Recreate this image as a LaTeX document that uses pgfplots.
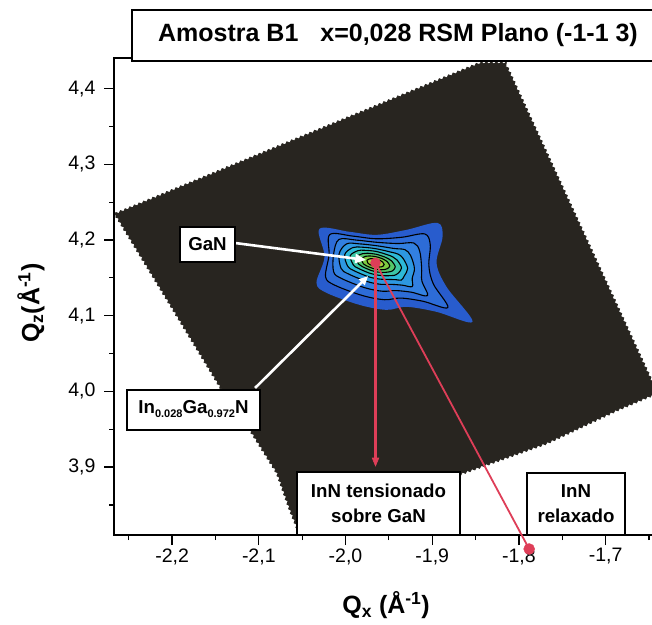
\documentclass[border=0pt]{standalone}
\usepackage{fontspec}
\setmainfont{Liberation Sans}
\usepackage{pgfplots}
\pgfplotsset{compat=1.18}
\usetikzlibrary{arrows.meta,decorations.pathmorphing}
\definecolor{bgdark}{RGB}{40,37,32}
\definecolor{cA}{RGB}{40,92,205}
\definecolor{cB}{RGB}{45,108,215}
\definecolor{cC}{RGB}{50,128,225}
\definecolor{cD}{RGB}{45,152,225}
\definecolor{cE}{RGB}{45,185,215}
\definecolor{cF}{RGB}{60,198,165}
\definecolor{cG}{RGB}{85,200,105}
\definecolor{cH}{RGB}{125,204,65}
\definecolor{cI}{RGB}{165,208,60}
\definecolor{redmark}{RGB}{222,62,88}
\begin{document}
\begin{tikzpicture}[x=1pt,y=1pt]
\useasboundingbox (0,0) rectangle (652,624);
\clip (0,0) rectangle (652,624);
\begin{axis}[
  at={(114pt,89pt)}, anchor=south west,
  scale only axis, width=561pt, height=477pt,
  xmin=-2.267, xmax=-1.62, ymin=3.8103, ymax=4.4404,
  clip=false,
  axis line style={line width=1.2pt},
  tick pos=left, tick align=outside,
  major tick length=10pt, minor tick length=5pt,
  every tick/.style={black, line width=1.2pt},
  xtick={-2.2,-2.1,-2.0,-1.9,-1.8,-1.7},
  ytick={3.9,4.0,4.1,4.2,4.3,4.4},
  minor xtick={-2.25,-2.15,-2.05,-1.95,-1.85,-1.75,-1.65},
  minor ytick={3.85,3.95,4.05,4.15,4.25,4.35},
  /pgf/number format/use comma,
  /pgf/number format/fixed,
  /pgf/number format/fixed zerofill,
  /pgf/number format/precision=1,
  /pgf/number format/assume math mode=true,
  tick label style={font=\fontsize{19.5}{20}\selectfont},
  yticklabel style={xshift=-5pt},
  xlabel={Q\textsubscript{x} (Å\textsuperscript{-1})},
  ylabel={Q\textsubscript{z}(Å\textsuperscript{-1})},
  xlabel style={font=\fontsize{25}{25}\selectfont\bfseries, at={(axis description cs:0.485,-0.147)}, anchor=center},
  ylabel style={font=\fontsize{25}{25}\selectfont\bfseries, at={(axis description cs:-0.148,0.486)}, anchor=center},
]
% measured region of the map
\addplot[fill=bgdark, draw=bgdark, line width=0.8pt, decorate, decoration={zigzag, segment length=5pt, amplitude=1.1pt}] coordinates {
(-2.2657,4.2343) (-1.8448,4.4338) (-1.8159,4.4338) (-1.6406,3.9979) (-1.6867,3.9754) (-1.7675,3.9318) (-1.8644,3.8922) (-2.0524,3.8103) (-2.0639,3.8433) (-2.0789,3.8922) (-2.1100,3.9490) (-2.1423,4.0018) (-2.2138,4.1367)
} -- cycle;
% contours
\addplot[fill=cA, draw=none, smooth cycle, tension=0.55] coordinates {
(-2.0300,4.2147) (-1.9954,4.2108) (-1.9642,4.2068) (-1.9296,4.2134) (-1.8939,4.2226) (-1.8881,4.2041) (-1.8950,4.1698) (-1.8835,4.1381) (-1.8535,4.0919) (-1.8950,4.1051) (-1.9296,4.1117) (-1.9527,4.1077) (-1.9839,4.1143) (-2.0219,4.1302) (-2.0335,4.1434) (-2.0242,4.1777)};
\addplot[fill=cB, draw=black, line width=1.1pt, smooth cycle, tension=0.55] coordinates {
(-2.0180,4.2073) (-1.9915,4.2051) (-1.9644,4.2016) (-1.9350,4.2036) (-1.9087,4.2080) (-1.9023,4.1938) (-1.9039,4.1662) (-1.8987,4.1419) (-1.8820,4.1108) (-1.9107,4.1191) (-1.9364,4.1233) (-1.9551,4.1211) (-1.9806,4.1267) (-2.0127,4.1405) (-2.0230,4.1514) (-2.0190,4.1800)};
\addplot[fill=cC, draw=black, line width=1.1pt, smooth cycle, tension=0.55] coordinates {
(-2.0076,4.2007) (-1.9879,4.1999) (-1.9645,4.1970) (-1.9397,4.1953) (-1.9212,4.1960) (-1.9145,4.1855) (-1.9122,4.1636) (-1.9119,4.1456) (-1.9054,4.1265) (-1.9239,4.1310) (-1.9423,4.1332) (-1.9572,4.1323) (-1.9779,4.1370) (-2.0045,4.1491) (-2.0137,4.1580) (-2.0137,4.1816)};
\addplot[fill=cD, draw=black, line width=1.1pt, smooth cycle, tension=0.55] coordinates {
(-1.9987,4.1949) (-1.9842,4.1949) (-1.9646,4.1925) (-1.9442,4.1888) (-1.9315,4.1872) (-1.9250,4.1796) (-1.9205,4.1625) (-1.9231,4.1493) (-1.9231,4.1385) (-1.9344,4.1403) (-1.9473,4.1414) (-1.9591,4.1414) (-1.9753,4.1452) (-1.9971,4.1554) (-2.0051,4.1625) (-2.0074,4.1817)};
\addplot[fill=cE, draw=black, line width=1.1pt, smooth cycle, tension=0.55] coordinates {
(-1.9917,4.1899) (-1.9810,4.1905) (-1.9647,4.1884) (-1.9481,4.1841) (-1.9393,4.1813) (-1.9336,4.1757) (-1.9283,4.1625) (-1.9321,4.1528) (-1.9355,4.1471) (-1.9421,4.1476) (-1.9512,4.1479) (-1.9603,4.1483) (-1.9734,4.1514) (-1.9909,4.1598) (-1.9976,4.1656) (-2.0009,4.1808)};
\addplot[fill=cF, draw=black, line width=1.1pt, smooth cycle, tension=0.55] coordinates {
(-1.9859,4.1858) (-1.9780,4.1864) (-1.9648,4.1849) (-1.9516,4.1805) (-1.9454,4.1776) (-1.9405,4.1735) (-1.9354,4.1632) (-1.9393,4.1561) (-1.9439,4.1532) (-1.9479,4.1529) (-1.9544,4.1528) (-1.9615,4.1534) (-1.9716,4.1559) (-1.9856,4.1627) (-1.9911,4.1673) (-1.9945,4.1793)};
\addplot[fill=cG, draw=black, line width=1.1pt, smooth cycle, tension=0.55] coordinates {
(-1.9807,4.1818) (-1.9750,4.1825) (-1.9649,4.1812) (-1.9549,4.1776) (-1.9505,4.1752) (-1.9467,4.1722) (-1.9426,4.1645) (-1.9459,4.1592) (-1.9501,4.1578) (-1.9525,4.1574) (-1.9572,4.1571) (-1.9625,4.1576) (-1.9701,4.1596) (-1.9806,4.1648) (-1.9849,4.1682) (-1.9878,4.1773)};
\addplot[fill=cH, draw=black, line width=1.1pt, smooth cycle, tension=0.55] coordinates {
(-1.9765,4.1785) (-1.9723,4.1789) (-1.9651,4.1780) (-1.9579,4.1755) (-1.9548,4.1736) (-1.9520,4.1715) (-1.9489,4.1660) (-1.9514,4.1623) (-1.9543,4.1611) (-1.9562,4.1608) (-1.9595,4.1607) (-1.9633,4.1611) (-1.9687,4.1625) (-1.9764,4.1662) (-1.9794,4.1686) (-1.9814,4.1752)};
\addplot[fill=cI, draw=black, line width=1.1pt, smooth cycle, tension=0.55] coordinates {
(-1.9721,4.1751) (-1.9696,4.1753) (-1.9652,4.1748) (-1.9608,4.1732) (-1.9589,4.1722) (-1.9572,4.1709) (-1.9554,4.1676) (-1.9569,4.1652) (-1.9587,4.1645) (-1.9597,4.1644) (-1.9618,4.1643) (-1.9641,4.1645) (-1.9675,4.1653) (-1.9721,4.1676) (-1.9739,4.1691) (-1.9752,4.1731)};
% red lines: strained InN on GaN and relaxed InN
\addplot[fill=redmark, draw=none] coordinates {(-1.9667,4.1698) (-1.9641,4.1698) (-1.9641,3.9100) (-1.9667,3.9100)} -- cycle;
\addplot[fill=redmark, draw=redmark, line width=0.6pt] coordinates {(-1.9692,3.9120) (-1.9616,3.9120) (-1.9654,3.9015)} -- cycle;
\addplot[redmark, line width=1.8pt] coordinates {(-1.9654,4.1698) (-1.7882,3.7918)};
% white arrows
\draw[white, line width=2.6pt, -{Triangle[length=11pt,width=9pt]}] (axis cs:-2.1273,4.1960) -- (axis cs:-1.9762,4.1736);
\draw[white, line width=2.6pt, -{Triangle[length=9pt,width=8pt]}] (axis cs:-2.1043,4.0045) -- (axis cs:-1.9739,4.1524);
% peak markers
\addplot[only marks, mark=*, mark size=5pt, redmark] coordinates {(-1.9654,4.1698)};
\addplot[only marks, mark=*, mark size=5.5pt, redmark] coordinates {(-1.7882,3.7918)};
\end{axis}
% title box
\draw[line width=1.2pt, fill=white] (132,563) rectangle (720,614);
\node[font=\fontsize{25}{25}\selectfont\bfseries] at (398,589) {Amostra B1\hspace{0.6em} x=0,028 RSM Plano (-1-1 3)};
% label boxes
\draw[line width=1.2pt, fill=white] (180,362) rectangle (235,397);
\node[font=\fontsize{18.7}{19}\selectfont\bfseries] at (207.5,379.5) {GaN};
\draw[line width=1.2pt, fill=white] (127,194) rectangle (260,234);
\node[font=\fontsize{18.7}{19}\selectfont\bfseries] at (193.5,215) {In\raisebox{-4.5pt}{\fontsize{11}{11}\selectfont 0.028}Ga\raisebox{-4.5pt}{\fontsize{11}{11}\selectfont 0.972}N};
\draw[line width=1.2pt, fill=white] (297,89) rectangle (460,152);
\node[font=\fontsize{18.7}{25}\selectfont\bfseries, align=center] at (378.5,120.5) {InN tensionado\\ sobre GaN};
\draw[line width=1.2pt, fill=white] (527,89) rectangle (625,151);
\node[font=\fontsize{18.7}{25}\selectfont\bfseries, align=center] at (576,120) {InN\\ relaxado};
\end{tikzpicture}
\end{document}
